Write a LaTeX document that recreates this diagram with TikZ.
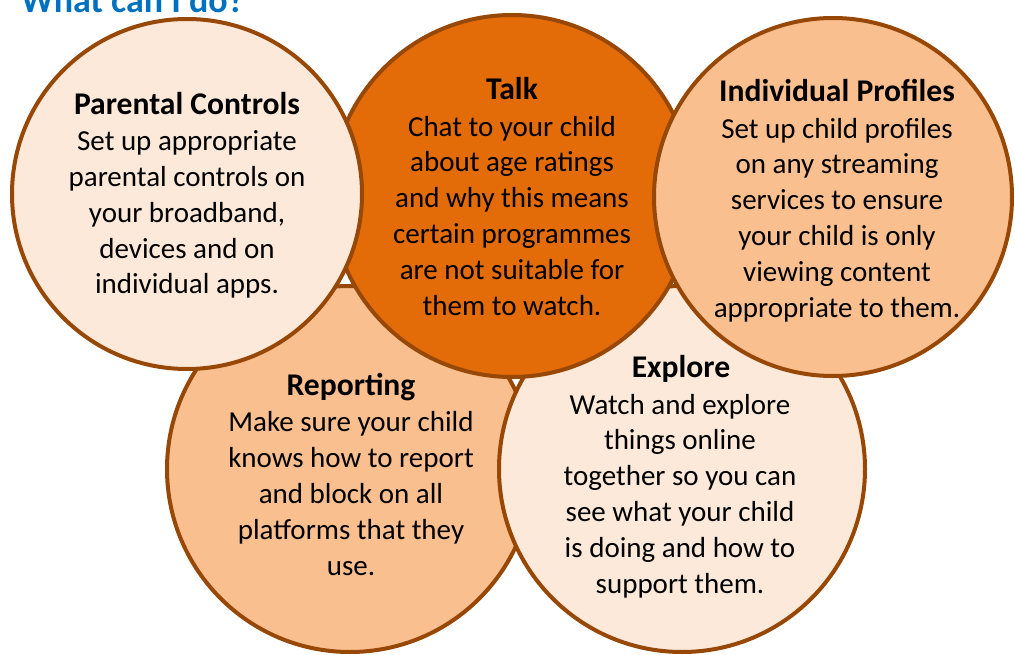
\documentclass[tikz,border=0pt]{standalone}
\usepackage{fontspec}
\setmainfont{Carlito}
\definecolor{edge}{HTML}{974806}
\definecolor{pale}{HTML}{FDE9D9}
\definecolor{mid}{HTML}{FABF8F}
\definecolor{deep}{HTML}{E36C09}
\definecolor{titleblue}{HTML}{0070C0}
\begin{document}
\begin{tikzpicture}[x=1pt,y=-1pt,
  bubble/.style={circle, draw=edge, line width=4pt, inner sep=0pt},
  head/.style={font=\bfseries\fontsize{31.6}{38}\selectfont, inner sep=0pt, anchor=base, text=black},
  body/.style={align=center, font=\fontsize{29}{35.8}\selectfont, inner sep=0pt, anchor=base, text=black}]
\useasboundingbox (0,0) rectangle (1015,655);
\clip (0,0) rectangle (1015,655);
% circles, back to front
\node[bubble, fill=mid,  minimum size=366pt] (rep) at (350,469) {};
\node[bubble, fill=pale, minimum size=366pt] (exp) at (682,469) {};
\node[bubble, fill=deep, minimum size=362pt] (talk) at (512,196) {};
\node[bubble, fill=pale, minimum size=350pt] (par) at (187,194) {};
\node[bubble, fill=mid,  minimum size=358pt] (prof) at (833,197) {};
% title
\node[anchor=base west, inner sep=0pt, text=titleblue, font=\bfseries\fontsize{36}{40}\selectfont] (title) at (21,13) {What can I do?};
% headings
\node[head] (parH) at (187,115) {Parental Controls};
\node[head] (talkH) at (512,100) {Talk};
\node[head] (profH) at (837,102) {Individual Profiles};
\node[head] (repH) at (351,395) {Reporting};
\node[head] (expH) at (681,377) {Explore};
% body texts (anchor = baseline of last line)
\node[body] (parT) at (187,294) {Set up appropriate\\parental controls on\\your broadband,\\devices and on\\individual apps.};
\node[body] (talkT) at (512,315) {Chat to your child\\about age ratings\\and why this means\\certain programmes\\are not suitable for\\them to watch.};
\node[body] (profT) at (837,317) {Set up child profiles\\on any streaming\\services to ensure\\your child is only\\viewing content\\appropriate to them.};
\node[body] (repT) at (351,575) {Make sure your child\\knows how to report\\and block on all\\platforms that they\\use.};
\node[body] (expT) at (680,593) {Watch and explore\\things online\\together so you can\\see what your child\\is doing and how to\\support them.};
\end{tikzpicture}
\end{document}
